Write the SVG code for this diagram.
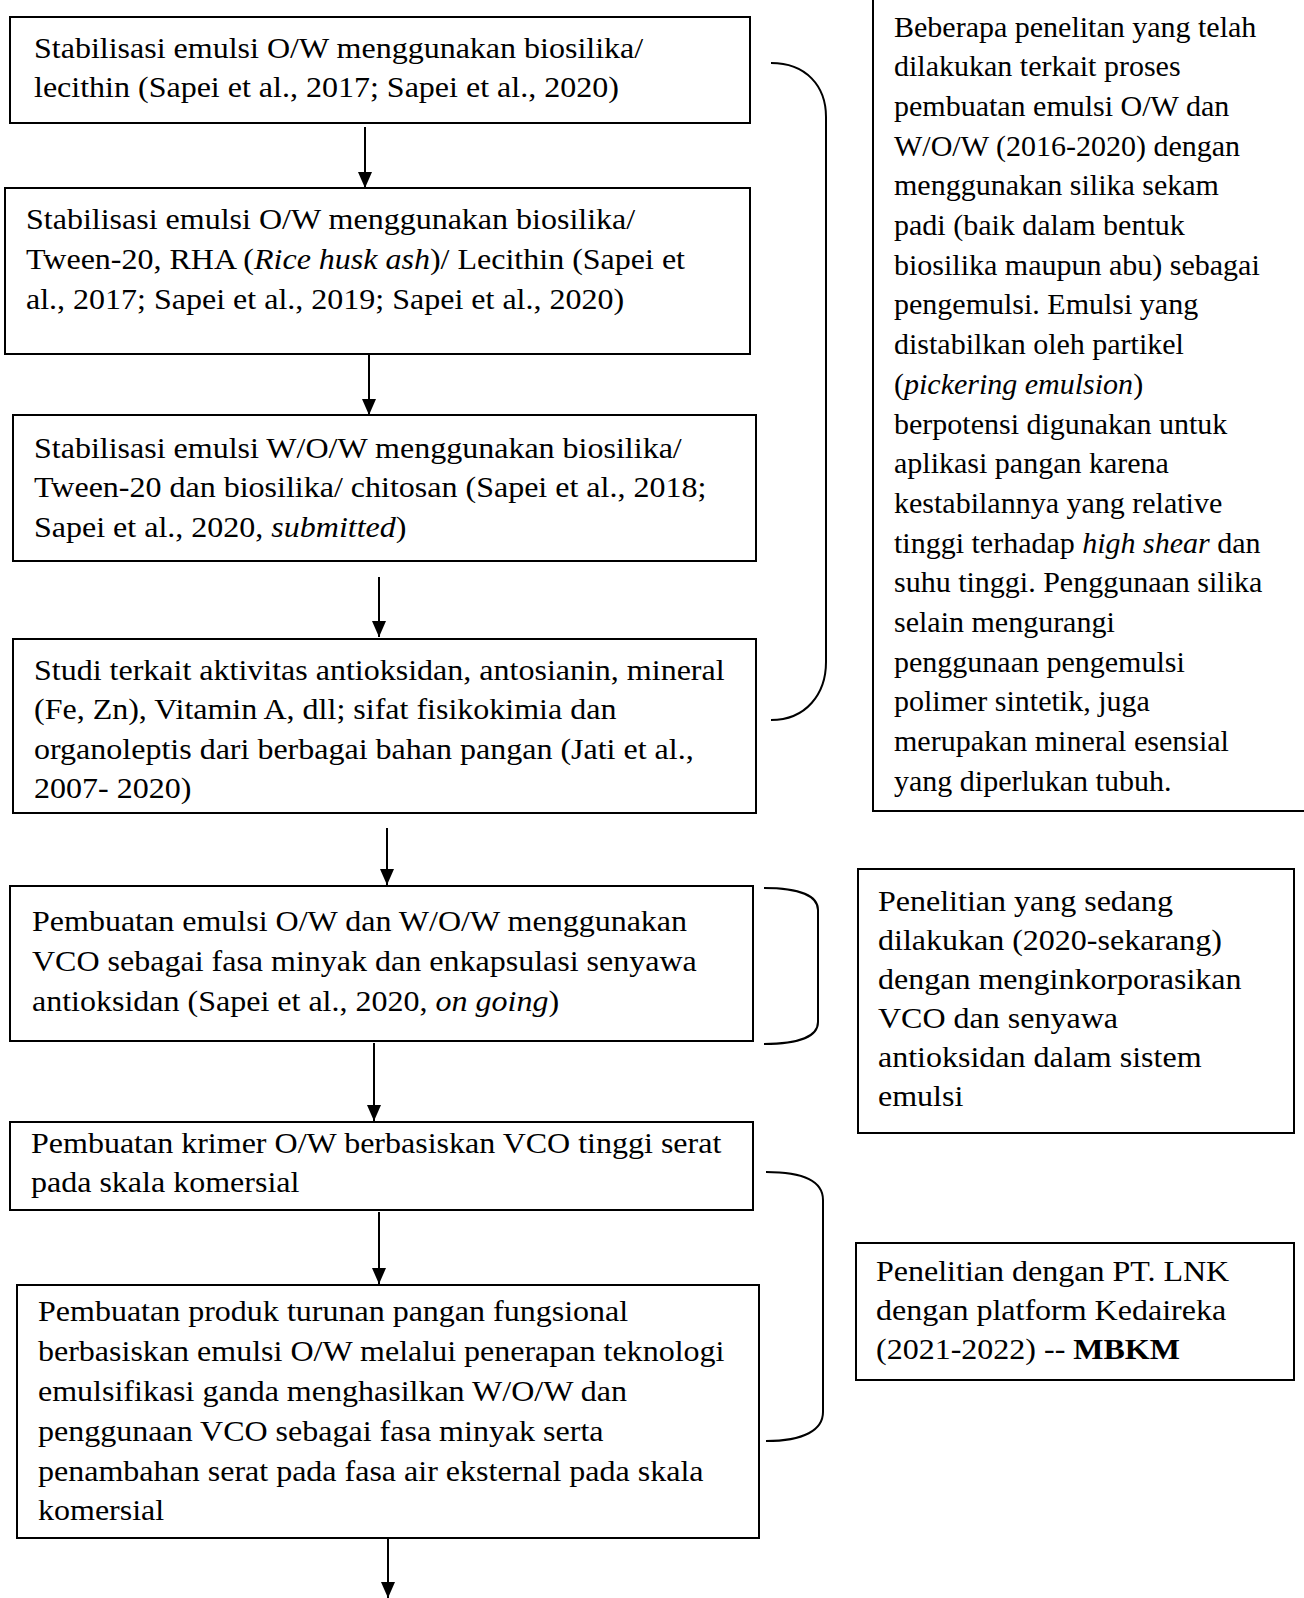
<svg xmlns="http://www.w3.org/2000/svg" width="1304" height="1598" viewBox="0 0 1304 1598">
<style>
.t { font-family: "Liberation Serif", "Times New Roman", serif; font-size: 30px; fill: #000; }
.it { font-style: italic; }
.b { font-weight: bold; }
.box { fill: #fff; stroke: #000; stroke-width: 2; }
.conn { stroke: #000; stroke-width: 2; fill: none; }
</style>
<defs>
<marker id="ah" viewBox="0 0 16 14" markerWidth="16" markerHeight="14" refX="16" refY="7" orient="auto" markerUnits="userSpaceOnUse">
<path d="M0,0 L16,7 L0,14 Z" fill="#000"/>
</marker>
</defs>
<rect width="1304" height="1598" fill="#fff"/>

<g id="connectors">
<line class="conn" x1="365" y1="127" x2="365" y2="188" marker-end="url(#ah)"/>
<line class="conn" x1="369" y1="355" x2="369" y2="415" marker-end="url(#ah)"/>
<line class="conn" x1="379" y1="577" x2="379" y2="637" marker-end="url(#ah)"/>
<line class="conn" x1="387" y1="828" x2="387" y2="885" marker-end="url(#ah)"/>
<line class="conn" x1="374" y1="1043" x2="374" y2="1121" marker-end="url(#ah)"/>
<line class="conn" x1="379" y1="1212" x2="379" y2="1284" marker-end="url(#ah)"/>
<line class="conn" x1="388" y1="1539" x2="388" y2="1598" marker-end="url(#ah)"/>
<path class="conn" d="M771,63 C806,63 826,86 826,117 L826,662 C826,694 806,720 771,720"/>
<path class="conn" d="M764,888 C800,888 818,896 818,910 L818,1022 C818,1036 800,1044 764,1044"/>
<path class="conn" d="M766,1172 C804,1172 823,1182 823,1200 L823,1412 C823,1430 804,1441 766,1441"/>
</g>

<g id="n1">
<rect class="box" x="10" y="17" width="740" height="106"/>
<g transform="translate(34,0) scale(1.067,1)">
<text class="t" x="0" y="58">Stabilisasi emulsi O/W menggunakan biosilika/</text>
<text class="t" x="0" y="97">lecithin (Sapei et al., 2017; Sapei et al., 2020)</text>
</g>
</g>

<g id="n2">
<rect class="box" x="5" y="188" width="745" height="166"/>
<g transform="translate(26,0) scale(1.067,1)">
<text class="t" x="0" y="229">Stabilisasi emulsi O/W menggunakan biosilika/</text>
<text class="t" x="0" y="269">Tween-20, RHA (<tspan class="it">Rice husk ash</tspan>)/ Lecithin (Sapei et</text>
<text class="t" x="0" y="309">al., 2017; Sapei et al., 2019; Sapei et al., 2020)</text>
</g>
</g>

<g id="n3">
<rect class="box" x="13" y="415" width="743" height="146"/>
<g transform="translate(34,0) scale(1.067,1)">
<text class="t" x="0" y="458">Stabilisasi emulsi W/O/W menggunakan biosilika/</text>
<text class="t" x="0" y="497">Tween-20 dan biosilika/ chitosan (Sapei et al., 2018;</text>
<text class="t" x="0" y="537">Sapei et al., 2020, <tspan class="it">submitted</tspan>)</text>
</g>
</g>

<g id="n4">
<rect class="box" x="13" y="639" width="743" height="174"/>
<g transform="translate(34,0) scale(1.067,1)">
<text class="t" x="0" y="680">Studi terkait aktivitas antioksidan, antosianin, mineral</text>
<text class="t" x="0" y="719">(Fe, Zn), Vitamin A, dll; sifat fisikokimia dan</text>
<text class="t" x="0" y="759">organoleptis dari berbagai bahan pangan (Jati et al.,</text>
<text class="t" x="0" y="798">2007- 2020)</text>
</g>
</g>

<g id="n5">
<rect class="box" x="10" y="886" width="743" height="155"/>
<g transform="translate(32,0) scale(1.067,1)">
<text class="t" x="0" y="931">Pembuatan emulsi O/W dan W/O/W menggunakan</text>
<text class="t" x="0" y="971">VCO sebagai fasa minyak dan enkapsulasi senyawa</text>
<text class="t" x="0" y="1011">antioksidan (Sapei et al., 2020, <tspan class="it">on going</tspan>)</text>
</g>
</g>

<g id="n6">
<rect class="box" x="10" y="1122" width="743" height="88"/>
<g transform="translate(31,0) scale(1.067,1)">
<text class="t" x="0" y="1153">Pembuatan krimer O/W berbasiskan VCO tinggi serat</text>
<text class="t" x="0" y="1192">pada skala komersial</text>
</g>
</g>

<g id="n7">
<rect class="box" x="17" y="1285" width="742" height="253"/>
<g transform="translate(38,0) scale(1.067,1)">
<text class="t" x="0" y="1321">Pembuatan produk turunan pangan fungsional</text>
<text class="t" x="0" y="1361">berbasiskan emulsi O/W melalui penerapan teknologi</text>
<text class="t" x="0" y="1401">emulsifikasi ganda menghasilkan W/O/W dan</text>
<text class="t" x="0" y="1441">penggunaan VCO sebagai fasa minyak serta</text>
<text class="t" x="0" y="1481">penambahan serat pada fasa air eksternal pada skala</text>
<text class="t" x="0" y="1520">komersial</text>
</g>
</g>

<g id="r1">
<rect class="box" x="873" y="-10" width="450" height="821"/>
<text class="t" x="894" y="37">Beberapa penelitan yang telah</text>
<text class="t" x="894" y="76">dilakukan terkait proses</text>
<text class="t" x="894" y="116">pembuatan emulsi O/W dan</text>
<text class="t" x="894" y="156">W/O/W (2016-2020) dengan</text>
<text class="t" x="894" y="195">menggunakan silika sekam</text>
<text class="t" x="894" y="235">padi (baik dalam bentuk</text>
<text class="t" x="894" y="275">biosilika maupun abu) sebagai</text>
<text class="t" x="894" y="314">pengemulsi. Emulsi yang</text>
<text class="t" x="894" y="354">distabilkan oleh partikel</text>
<text class="t" x="894" y="394">(<tspan class="it">pickering emulsion</tspan>)</text>
<text class="t" x="894" y="434">berpotensi digunakan untuk</text>
<text class="t" x="894" y="473">aplikasi pangan karena</text>
<text class="t" x="894" y="513">kestabilannya yang relative</text>
<text class="t" x="894" y="553">tinggi terhadap <tspan class="it">high shear</tspan> dan</text>
<text class="t" x="894" y="592">suhu tinggi. Penggunaan silika</text>
<text class="t" x="894" y="632">selain mengurangi</text>
<text class="t" x="894" y="672">penggunaan pengemulsi</text>
<text class="t" x="894" y="711">polimer sintetik, juga</text>
<text class="t" x="894" y="751">merupakan mineral esensial</text>
<text class="t" x="894" y="791">yang diperlukan tubuh.</text>
</g>

<g id="r2">
<rect class="box" x="858" y="869" width="436" height="264"/>
<g transform="translate(878,0) scale(1.067,1)">
<text class="t" x="0" y="911">Penelitian yang sedang</text>
<text class="t" x="0" y="950">dilakukan (2020-sekarang)</text>
<text class="t" x="0" y="989">dengan menginkorporasikan</text>
<text class="t" x="0" y="1028">VCO dan senyawa</text>
<text class="t" x="0" y="1067">antioksidan dalam sistem</text>
<text class="t" x="0" y="1106">emulsi</text>
</g>
</g>

<g id="r3">
<rect class="box" x="856" y="1243" width="438" height="137"/>
<g transform="translate(876,0) scale(1.067,1)">
<text class="t" x="0" y="1281">Penelitian dengan PT. LNK</text>
<text class="t" x="0" y="1320">dengan platform Kedaireka</text>
<text class="t" x="0" y="1359">(2021-2022) -- <tspan class="b">MBKM</tspan></text>
</g>
</g>
</svg>
